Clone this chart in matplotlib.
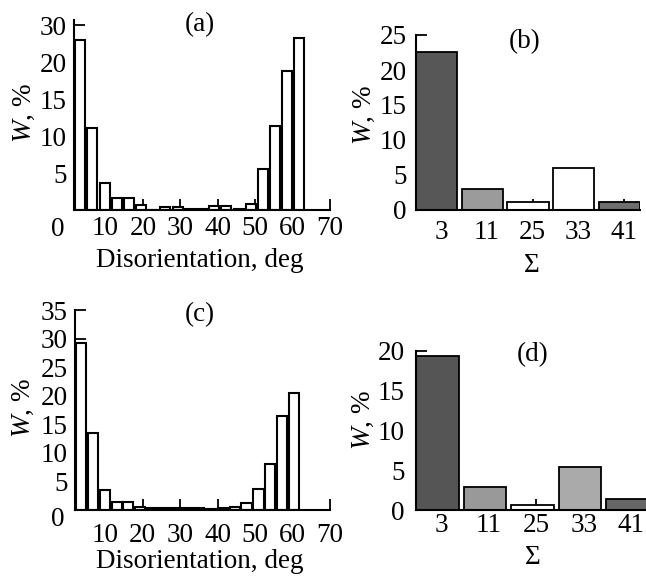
import matplotlib
matplotlib.use("Agg")
import matplotlib.pyplot as plt

plt.rcParams['font.family'] = ['Liberation Serif', 'DejaVu Serif']
plt.rcParams['mathtext.fontset'] = 'custom'
plt.rcParams['mathtext.rm'] = 'Liberation Serif'
plt.rcParams['mathtext.it'] = 'Liberation Serif:italic'

# ---------------- data ----------------
# (a) disorientation histogram (bin centres, deg) and fractions W, %
angle_a = [3.2, 6.5, 9.8, 13.0, 16.3, 19.5, 22.8, 26.0, 29.3, 32.5,
           35.8, 39.1, 42.3, 45.6, 48.8, 52.1, 55.3, 58.6, 61.8]
w_a = [23.0, 11.1, 3.7, 1.6, 1.6, 0.7, 0.0, 0.4, 0.4, 0.2,
       0.2, 0.5, 0.5, 0.2, 0.8, 5.6, 11.4, 18.8, 23.2]

# (c) disorientation histogram
angle_c = [3.5, 6.6, 9.8, 13.0, 16.1, 19.3, 22.4, 25.6, 28.8, 31.9,
           35.1, 38.2, 41.4, 44.6, 47.7, 50.9, 54.0, 57.2, 60.4]
w_c = [29.2, 13.5, 3.5, 1.4, 1.4, 0.5, 0.4, 0.3, 0.3, 0.4,
       0.4, 0.2, 0.4, 0.6, 1.3, 3.7, 8.0, 16.5, 20.5]

# (b), (d) CSL boundaries
sigma = ["3", "11", "25", "33", "41"]
w_b = [22.5, 3.0, 1.2, 6.0, 1.1]
w_d = [19.4, 2.95, 0.63, 5.35, 1.35]

hist_xticks = [10, 20, 30, 40, 50, 60, 70]
yticks_a = [5, 10, 15, 20, 25]
yticklabels_a = ["5", "10", "15", "20", "30"]
yticks_b = [0, 5, 10, 15, 20, 25]
yticks_c = [5, 10, 15, 20, 25, 30, 35]
yticks_d = [0, 5, 10, 15, 20]

# ---------------- style ----------------
colors_b = ["#575757", "#9b9b9b", "#ffffff", "#ffffff", "#6e6e6e"]
colors_d = ["#555555", "#999999", "#ffffff", "#aaaaaa", "#666666"]
FS = 19.5
W, H = 646, 576

fig = plt.figure(figsize=(W / 100, H / 100), dpi=100)


def px_axes(l, r, t, b):
    return fig.add_axes([l / W, 1 - b / H, (r - l) / W, (b - t) / H])


def style(ax, xpad, ypad):
    for s in ("top", "right"):
        ax.spines[s].set_visible(False)
    for s in ("left", "bottom"):
        ax.spines[s].set_linewidth(1.5)
    ax.set_axisbelow(True)
    ax.tick_params(direction="in", length=8, width=1.3, labelsize=FS,
                   top=False, right=False)
    ax.tick_params(axis="x", pad=xpad)
    ax.tick_params(axis="y", pad=ypad)


ylab = r"$W$, %"

# ---- (a) ----
ax = px_axes(74, 330, 20, 210)
ax.bar(angle_a, w_a, width=2.75, color="white", edgecolor="black", linewidth=1.5)
ax.set_xlim(1.6, 70)
ax.set_ylim(0, 25.7)
ax.set_xticks(hist_xticks)
ax.set_yticks(yticks_a)
ax.set_yticklabels(yticklabels_a)
style(ax, 4.5, 5)
ax.text(-0.0625, -0.105, "0", transform=ax.transAxes, ha="center", va="center", fontsize=FS)
ax.set_xlabel("Disorientation, deg", fontsize=FS, va="baseline")
ax.xaxis.set_label_coords(0.49, (210 - 267) / 190)
ax.set_ylabel(ylab, fontsize=FS, va="center")
ax.yaxis.set_label_coords(-0.195, 0.51)
ax.text(0.492, 0.974, "(a)", transform=ax.transAxes, ha="center", va="center", fontsize=FS)

# ---- (b) ----
ax = px_axes(416, 640, 35, 210)
xb = list(range(len(sigma)))
ax.bar(xb, w_b, width=0.9, color=colors_b, edgecolor="black", linewidth=1.3)
ax.set_xlim(-0.45, 4.45)
ax.set_ylim(0, 25)
ax.set_xticks([i + 0.1 for i in xb])
ax.set_xticklabels(sigma)
ax.set_yticks(yticks_b)
style(ax, 7, 6.5)
ax.set_xlabel("Σ", fontsize=FS, va="center")
ax.xaxis.set_label_coords(0.518, (210 - 266) / 175)
ax.set_ylabel(ylab, fontsize=FS, va="center")
ax.yaxis.set_label_coords(-0.232, 0.543)
ax.text(0.487, 0.96, "(b)", transform=ax.transAxes, ha="center", va="center", fontsize=FS)

# ---- (c) ----
ax = px_axes(75, 330, 310, 510)
ax.bar(angle_c, w_c, width=2.7, color="white", edgecolor="black", linewidth=1.5)
ax.set_xlim(1.9, 70)
ax.set_ylim(0, 35)
ax.set_xticks(hist_xticks)
ax.set_yticks(yticks_c)
style(ax, 9.5, 5)
ax.text(-0.067, -0.05, "0", transform=ax.transAxes, ha="center", va="center", fontsize=FS)
ax.set_xlabel("Disorientation, deg", fontsize=FS, va="baseline")
ax.xaxis.set_label_coords(0.49, (510 - 568) / 200)
ax.set_ylabel(ylab, fontsize=FS, va="center")
ax.yaxis.set_label_coords(-0.204, 0.51)
ax.text(0.49, 0.975, "(c)", transform=ax.transAxes, ha="center", va="center", fontsize=FS)

# ---- (d) ----
ax = px_axes(416, 649, 351, 510)
ax.bar(xb, w_d, width=0.9, color=colors_d, edgecolor="black", linewidth=1.3)
ax.set_xlim(-0.45, 4.45)
ax.set_ylim(0, 20)
ax.set_xticks([i + 0.08 for i in xb])
ax.set_xticklabels(sigma)
ax.set_yticks(yticks_d)
style(ax, 2.5, 8)
ax.set_xlabel("Σ", fontsize=FS, va="center")
ax.xaxis.set_label_coords(0.502, (510 - 557) / 159)
ax.set_ylabel(ylab, fontsize=FS, va="center")
ax.yaxis.set_label_coords(-0.227, 0.566)
ax.text(0.502, 0.975, "(d)", transform=ax.transAxes, ha="center", va="center", fontsize=FS)

fig.savefig("out.png", dpi=100)
